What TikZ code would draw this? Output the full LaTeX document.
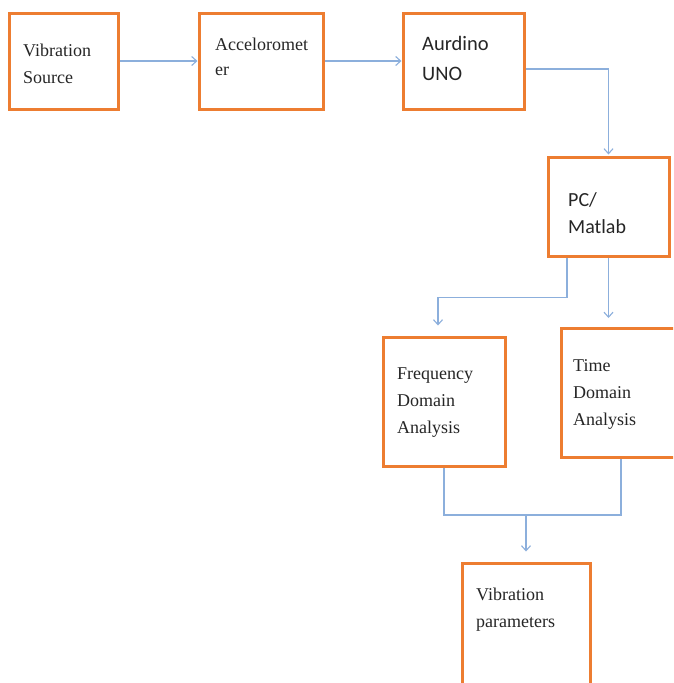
\documentclass[tikz,border=0pt]{standalone}
\usepackage{fontspec}
\setmainfont{Liberation Serif}
\newfontfamily\calfont{Carlito}
\usepackage{xcolor}
\usepackage{tikz}
\usetikzlibrary{arrows.meta, positioning, calc}

\definecolor{boxorange}{RGB}{237,125,49}
\definecolor{lineblue}{RGB}{140,175,220}

\tikzset{
    blk/.style={draw=boxorange, line width=3pt, fill=white, inner sep=0pt},
    txt/.style={align=left, anchor=base west, inner sep=0pt, text=black!85,
        font=\fontsize{18}{27}\selectfont},
    caltxt/.style={txt, font=\calfont\fontsize{20.5}{30}\selectfont},
    ln/.style={draw=lineblue, line width=1.1pt},
    arr/.style={ln, -{Straight Barb[length=5pt, width=9pt]}}
}

\begin{document}
\begin{tikzpicture}[x=1pt, y=-1pt]
    \clip (0,0) rectangle (673,683);
    \fill[white] (0,0) rectangle (673,683);

    % boxes
    \node[blk, minimum width=109, minimum height=96] (src) at (63.5,61) {};
    \node[blk, minimum width=124, minimum height=96] (acc) at (261,61) {};
    \node[blk, minimum width=121, minimum height=96] (ard) at (463.5,61) {};
    \node[blk, minimum width=121, minimum height=99] (pc) at (608.5,206.5) {};
    \node[blk, minimum width=122, minimum height=129] (frq) at (444,401.5) {};
    \node[blk, minimum width=120, minimum height=129] (tim) at (621,393) {};
    \node[blk, minimum width=128, minimum height=132] (par) at (526,629) {};

    % texts (placed at the baseline of the last line)
    \node[txt] (srcT) at (23,83) {Vibration\\Source};
    \node[txt, font=\fontsize{18}{25}\selectfont] (accT) at (215,75) {Acceloromet\\er};
    \node[caltxt] (ardT) at (422,80) {Aurdino\\UNO};
    \node[caltxt, font=\calfont\fontsize{20}{27}\selectfont] (pcT) at (568,233) {PC/\\Matlab};
    \node[txt] (frqT) at (397,433) {Frequency\\Domain\\Analysis};
    \node[txt] (timT) at (573,425) {Time\\Domain\\Analysis};
    \node[txt] (parT) at (476,627) {Vibration\\parameters};

    % connectors
    \draw[arr] (src.east) -- (acc.west);
    \draw[arr] (acc.east) -- (ard.west);
    \draw[arr] ([yshift=-8pt]ard.east) -| ([yshift=1pt]pc.north);
    \draw[arr] ([xshift=-41.5pt]pc.south) -- ++(0,40) -| ([xshift=-6pt, yshift=10pt]frq.north);
    \coordinate (tk) at (pc.south |- tim.north);
    \draw[arr] (pc.south) -- ([yshift=9pt]tk);
    \coordinate (jn) at (par.north |- 0,515);
    \draw[ln] (frq.south) |- (jn) -| (tim.south);
    \draw[arr] (jn) -- ([yshift=10pt]par.north);

\end{tikzpicture}
\end{document}
